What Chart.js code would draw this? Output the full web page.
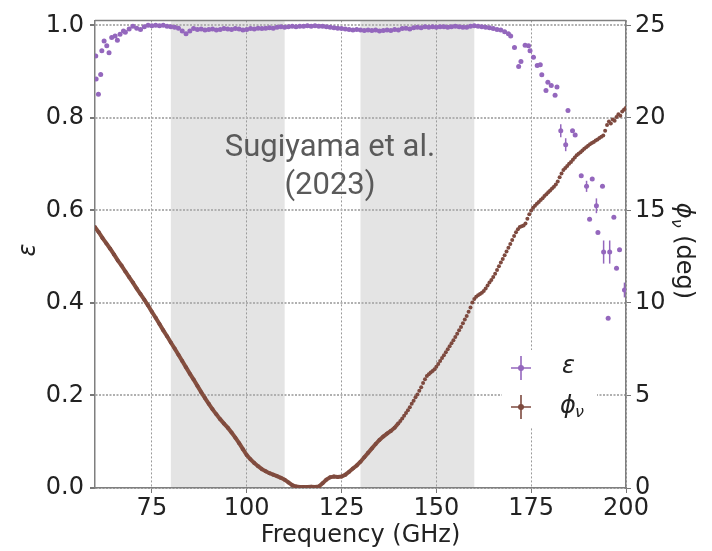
<!DOCTYPE html>
<html>
<head>
<meta charset="utf-8">
<script src="https://cdn.jsdelivr.net/npm/chart.js@4.4.1/dist/chart.umd.min.js"></script>
<style>
  html, body { margin: 0; padding: 0; background: #fff; }
  canvas { display: block; }
</style>
</head>
<body>
<canvas id="chart" width="712" height="551"></canvas>
<script>
// phase curve, 60-140 GHz on a 1 GHz grid (deg)
const phiLowStart = 60, phiLowStep = 1;
const phiLow = [
  14.10, 13.82, 13.50, 13.22, 12.93, 12.62, 12.30, 12.02, 11.70, 11.40,
  11.10, 10.78, 10.48, 10.18, 9.86, 9.52, 9.20, 8.86, 8.52, 8.20,
  7.86, 7.54, 7.20, 6.86, 6.52, 6.18, 5.86, 5.52, 5.18, 4.86,
  4.55, 4.25, 3.98, 3.72, 3.48, 3.26, 3.00, 2.72, 2.42, 2.10,
  1.78, 1.55, 1.35, 1.18, 1.02, 0.90, 0.80, 0.72, 0.64, 0.55,
  0.45, 0.30, 0.15, 0.08, 0.05, 0.06, 0.05, 0.07, 0.06, 0.08,
  0.25, 0.45, 0.58, 0.62, 0.60, 0.62, 0.72, 0.88, 1.05, 1.22,
  1.42, 1.66, 1.90, 2.14, 2.38, 2.60, 2.78, 2.94, 3.08, 3.26,
  3.50
];

// phase curve, 140.5-200 GHz on a 0.5 GHz grid (deg)
const phiHighStart = 140.5, phiHighStep = 0.5;
const phiHigh = [
  3.62, 3.75, 3.90, 4.05, 4.20, 4.36, 4.55, 4.72, 4.90, 5.05,
  5.25, 5.45, 5.68, 5.88, 6.05, 6.15, 6.24, 6.32, 6.42, 6.55,
  6.70, 6.86, 7.02, 7.18, 7.34, 7.50, 7.66, 7.82, 7.98, 8.16,
  8.34, 8.52, 8.70, 8.90, 9.10, 9.30, 9.52, 9.76, 10.02, 10.22,
  10.34, 10.42, 10.48, 10.55, 10.64, 10.78, 10.94, 11.10, 11.24, 11.40,
  11.58, 11.78, 11.98, 12.18, 12.38, 12.58, 12.78, 12.98, 13.18, 13.40,
  13.62, 13.82, 13.98, 14.10, 14.14, 14.18, 14.30, 14.55, 14.80, 15.00,
  15.14, 15.26, 15.36, 15.46, 15.56, 15.66, 15.78, 15.88, 15.98, 16.08,
  16.18, 16.28, 16.40, 16.56, 16.80, 17.00, 17.18, 17.30, 17.40, 17.52,
  17.62, 17.74, 17.86, 17.98, 18.06, 18.14, 18.24, 18.34, 18.42, 18.50,
  18.58, 18.64, 18.70, 18.78, 18.84, 18.92, 18.98, 19.05, 19.30, 19.62,
  19.80, 19.70, 19.92, 19.85, 20.05, 20.20, 20.12, 20.35, 20.45, 20.55
];

// efficiency below 68 GHz
const epsLowFreq = [60.2, 60.3, 60.9, 61.5, 61.8, 62.4, 63.1, 63.7, 64.4, 65.3, 65.9, 66.6, 67.5];
const epsLowVal = [0.934, 0.884, 0.851, 0.894, 0.945, 0.966, 0.956, 0.941, 0.974, 0.977, 0.968, 0.981, 0.988];

// efficiency 68-169 GHz, 1 GHz grid
const epsMidStart = 68, epsMidStep = 1;
const epsMid = [
  0.985, 0.992, 0.998, 0.994, 0.991, 0.997, 1.000, 0.999, 1.000, 0.999,
  1.000, 0.998, 0.997, 0.996, 0.994, 0.988, 0.982, 0.988, 0.993, 0.991,
  0.992, 0.990, 0.991, 0.992, 0.990, 0.991, 0.993, 0.992, 0.991, 0.993,
  0.992, 0.990, 0.991, 0.993, 0.992, 0.994, 0.993, 0.994, 0.995, 0.994,
  0.996, 0.997, 0.996, 0.997, 0.998, 0.997, 0.998, 0.998, 0.999, 0.998,
  0.999, 0.998, 0.998, 0.997, 0.996, 0.995, 0.994, 0.993, 0.992, 0.991,
  0.990, 0.991, 0.990, 0.989, 0.990, 0.989, 0.990, 0.988, 0.989, 0.990,
  0.989, 0.991, 0.990, 0.993, 0.994, 0.992, 0.995, 0.996, 0.995, 0.997,
  0.996, 0.997, 0.996, 0.997, 0.997, 0.996, 0.997, 0.998, 0.997, 0.996,
  0.996, 0.998, 0.999, 0.998, 0.997, 0.996, 0.995, 0.993, 0.991, 0.990,
  0.986, 0.982
];

// efficiency above 169 GHz, with error bars (0 = too small to see)
const epsHighFreq = [169.6, 170.6, 171.7, 172.3, 173.4, 174.3, 174.7, 175.6, 176.6, 177.4,
  177.8, 178.9, 179.4, 180.3, 181.3, 181.8, 182.8, 184.1, 184.7, 185.9,
  186.6, 188.2, 189.6, 190.4, 191.1, 192.2, 192.6, 193.8, 194.1, 195.3,
  195.7, 196.8, 197.5, 198.3, 199.6];
const epsHighVal = [0.977, 0.952, 0.911, 0.922, 0.957, 0.956, 0.945, 0.931, 0.913, 0.915,
  0.893, 0.859, 0.877, 0.870, 0.849, 0.867, 0.772, 0.742, 0.816, 0.772,
  0.763, 0.675, 0.652, 0.581, 0.668, 0.610, 0.552, 0.652, 0.510, 0.367,
  0.510, 0.585, 0.475, 0.515, 0.428];
const epsHighErr = [0, 0, 0, 0, 0, 0, 0, 0, 0, 0,
  0, 0, 0, 0, 0, 0, 0.014, 0.014, 0, 0,
  0, 0, 0.012, 0, 0, 0.016, 0, 0, 0.025, 0,
  0.025, 0, 0, 0, 0.016];

const bands = [[80, 110], [130, 160]];
const freqTicks = [75, 100, 125, 150, 175, 200];
const epsTicks = [0, 0.2, 0.4, 0.6, 0.8, 1.0];
const phiTicks = [0, 5, 10, 15, 20, 25];

const EPS_COLOR = '#9467bd';
const PHI_COLOR = '#7e4a3f';

const phiPoints = [
  ...phiLow.map((v, i) => ({ x: phiLowStart + i * phiLowStep, y: v })),
  ...phiHigh.map((v, i) => ({ x: phiHighStart + i * phiHighStep, y: v }))
];
const epsPoints = [
  ...epsLowFreq.map((f, i) => ({ x: f, y: epsLowVal[i] })),
  ...epsMid.map((v, i) => ({ x: epsMidStart + i * epsMidStep, y: v })),
  ...epsHighFreq.map((f, i) => ({ x: f, y: epsHighVal[i] }))
];

Chart.defaults.font.family = '"DejaVu Sans", sans-serif';
Chart.defaults.color = '#222';

// grey shaded bands behind everything
const bandsPlugin = {
  id: 'bands',
  beforeDraw(chart) {
    const { ctx, chartArea: a, scales: { x } } = chart;
    ctx.save();
    ctx.fillStyle = '#e4e4e4';
    bands.forEach(([lo, hi]) => {
      const x0 = x.getPixelForValue(lo), x1 = x.getPixelForValue(hi);
      ctx.fillRect(x0, a.top, x1 - x0, a.bottom - a.top);
    });
    ctx.restore();
  }
};

// vertical error bars on the high-frequency efficiency points
const errPlugin = {
  id: 'errbars',
  beforeDatasetsDraw(chart) {
    const { ctx, scales: { x, y } } = chart;
    ctx.save();
    ctx.strokeStyle = EPS_COLOR;
    ctx.lineWidth = 1.5;
    epsHighFreq.forEach((f, i) => {
      const e = epsHighErr[i];
      if (!e) return;
      const px = x.getPixelForValue(f);
      ctx.beginPath();
      ctx.moveTo(px, y.getPixelForValue(epsHighVal[i] - e));
      ctx.lineTo(px, y.getPixelForValue(epsHighVal[i] + e));
      ctx.stroke();
    });
    ctx.restore();
  }
};

// top spine, axis labels, note and legend
const decorPlugin = {
  id: 'decor',
  afterDraw(chart) {
    const { ctx, chartArea: a } = chart;
    ctx.save();
    ctx.strokeStyle = '#7f7f7f';
    ctx.lineWidth = 1.5;
    ctx.beginPath();
    ctx.moveTo(a.left, a.top);
    ctx.lineTo(a.right, a.top);
    ctx.stroke();

    // left axis label
    ctx.fillStyle = '#222';
    ctx.textAlign = 'center';
    ctx.textBaseline = 'middle';
    ctx.save();
    ctx.translate(29, 250);
    ctx.rotate(-Math.PI / 2);
    ctx.font = 'italic 24px "DejaVu Sans"';
    ctx.fillText('ε', 0, 0);
    ctx.restore();

    // right axis label: ϕ_ν (deg)
    ctx.save();
    ctx.translate(683, 251);
    ctx.rotate(Math.PI / 2);
    ctx.textAlign = 'left';
    const big = 'italic 24px "DejaVu Sans"', sub = 'italic 16px "DejaVu Sans"', reg = '24px "DejaVu Sans"';
    ctx.font = big; const w1 = ctx.measureText('ϕ').width;
    ctx.font = sub; const w2 = ctx.measureText('ν').width;
    ctx.font = reg; const w3 = ctx.measureText(' (deg)').width;
    let cx = -(w1 + w2 + w3) / 2;
    ctx.font = big; ctx.fillText('ϕ', cx, 0); cx += w1;
    ctx.font = sub; ctx.fillText('ν', cx, 7); cx += w2;
    ctx.font = reg; ctx.fillText(' (deg)', cx, 0);
    ctx.restore();

    // reference note
    ctx.fillStyle = '#5a5a5a';
    ctx.font = '31px Roboto';
    ctx.textAlign = 'center';
    ctx.textBaseline = 'alphabetic';
    ctx.fillText('Sugiyama et al.', 330, 156);
    ctx.fillText('(2023)', 330, 194);

    // legend
    ctx.fillStyle = '#fff';
    ctx.fillRect(502, 350, 95, 77);
    const marker = (cx, cy, color) => {
      ctx.strokeStyle = color;
      ctx.fillStyle = color;
      ctx.lineWidth = 1.6;
      ctx.beginPath();
      ctx.moveTo(cx, cy - 12); ctx.lineTo(cx, cy + 12);
      ctx.moveTo(cx - 10, cy); ctx.lineTo(cx + 10, cy);
      ctx.stroke();
      ctx.beginPath();
      ctx.arc(cx, cy, 3, 0, Math.PI * 2);
      ctx.fill();
    };
    marker(521, 368, EPS_COLOR);
    marker(521, 407, PHI_COLOR);
    ctx.fillStyle = '#222';
    ctx.textAlign = 'left';
    ctx.textBaseline = 'middle';
    ctx.font = 'italic 24px "DejaVu Sans"';
    ctx.fillText('ε', 562, 367);
    ctx.fillText('ϕ', 560, 407);
    ctx.font = 'italic 16px "DejaVu Sans"';
    ctx.fillText('ν', 575, 413);
    ctx.restore();
  }
};

new Chart(document.getElementById('chart'), {
  type: 'scatter',
  data: {
    datasets: [
      {
        label: 'ε',
        data: epsPoints,
        yAxisID: 'y',
        backgroundColor: EPS_COLOR,
        borderColor: EPS_COLOR,
        pointRadius: 2.5,
        pointBorderWidth: 0,
        order: 1
      },
      {
        label: 'ϕν',
        data: phiPoints,
        yAxisID: 'y2',
        backgroundColor: PHI_COLOR,
        borderColor: PHI_COLOR,
        pointRadius: 2,
        pointBorderWidth: 0,
        showLine: true,
        borderWidth: 4,
        segment: {
          borderColor: c => (c.p0.parsed.x < 140 ? '#86503f' : 'transparent')
        },
        order: 2
      }
    ]
  },
  options: {
    responsive: false,
    animation: false,
    layout: { padding: { top: 17, right: 0, left: 0, bottom: 0 } },
    plugins: { legend: { display: false }, tooltip: { enabled: false } },
    scales: {
      x: {
        type: 'linear',
        min: 60,
        max: 200,
        afterBuildTicks: s => { s.ticks = freqTicks.map(v => ({ value: v })); },
        afterFit: s => { s.height = 63; },
        grid: { color: '#9a9a9a', lineWidth: 1, tickLength: 5, tickColor: '#777' },
        border: { color: '#7f7f7f', width: 1.5, dash: [2, 2] },
        ticks: { color: '#222', font: { size: 24 }, padding: 1, maxRotation: 0 },
        title: { display: true, text: 'Frequency (GHz)', color: '#222', font: { size: 24 }, padding: { top: 0, bottom: 1 } }
      },
      y: {
        type: 'linear',
        position: 'left',
        min: 0,
        max: 1.0107,
        afterBuildTicks: s => { s.ticks = epsTicks.map(v => ({ value: v })); },
        afterFit: s => { s.width = 95; },
        grid: { color: '#b0b0b0', lineWidth: 2, tickLength: 5, tickColor: '#777' },
        border: { color: '#7f7f7f', width: 1.5, dash: [2, 1.5] },
        ticks: { color: '#222', font: { size: 24 }, padding: 6, callback: v => v.toFixed(1) }
      },
      y2: {
        type: 'linear',
        position: 'right',
        min: 0,
        max: 25.27,
        afterBuildTicks: s => { s.ticks = phiTicks.map(v => ({ value: v })); },
        afterFit: s => { s.width = 86; },
        grid: { drawOnChartArea: false, tickLength: 5, tickColor: '#777' },
        border: { color: '#7f7f7f', width: 1.5 },
        ticks: { color: '#222', font: { size: 24 }, padding: 4 }
      }
    }
  },
  plugins: [bandsPlugin, errPlugin, decorPlugin]
});
</script>
</body>
</html>
